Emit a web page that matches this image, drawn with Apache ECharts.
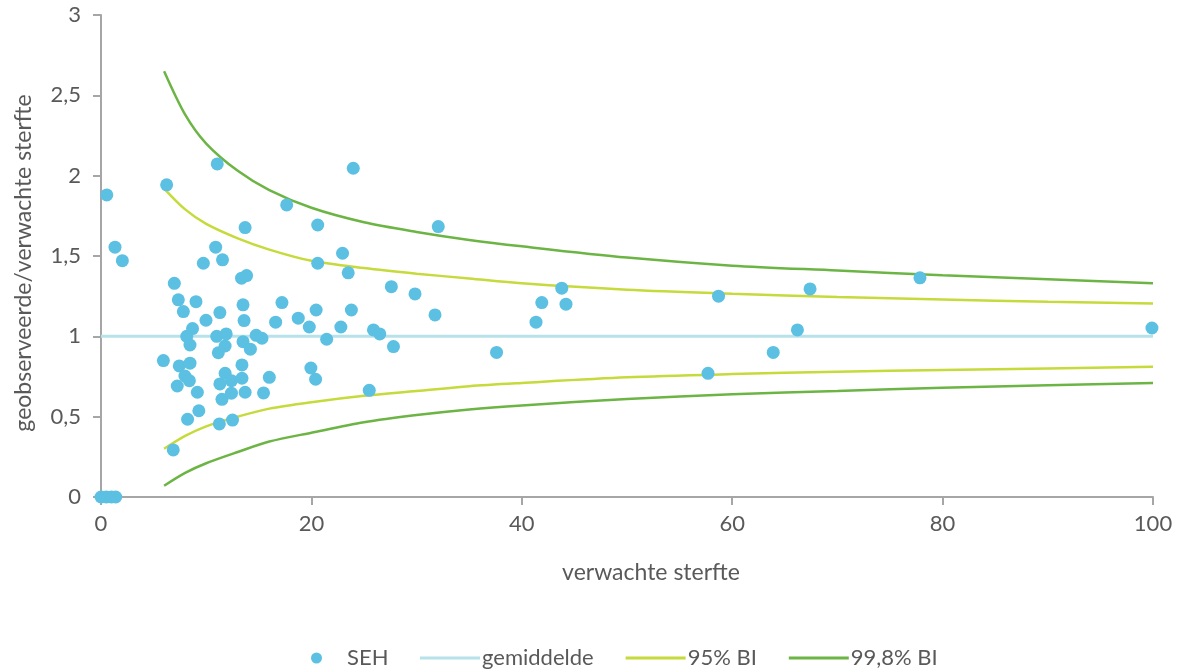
<!DOCTYPE html>
<html>
<head>
<meta charset="utf-8">
<script src="https://cdn.jsdelivr.net/npm/echarts@6/dist/echarts.min.js"></script>
<style>
  html, body { margin: 0; padding: 0; background: #ffffff; }
  #chart { width: 1186px; height: 670px; }
</style>
</head>
<body>
<div id="chart"></div>
<script>
// Observed / expected mortality per hospital (SEH) against expected deaths
const sehPoints = [
  [0, 0], [0.5, 0], [1.0, 0], [1.4, 0],
  [0.55, 1.88], [1.33, 1.555], [2.03, 1.471],
  [5.93, 0.849], [6.24, 1.943], [6.87, 0.293], [6.97, 1.33], [7.25, 0.691],
  [7.35, 1.227], [7.44, 0.816], [7.83, 1.154], [7.98, 0.753], [8.15, 1.0],
  [8.23, 0.484], [8.4, 0.724], [8.46, 0.833], [8.46, 0.946], [8.7, 1.048],
  [9.03, 1.216], [9.16, 0.652], [9.3, 0.537], [9.73, 1.455], [9.98, 1.10],
  [10.9, 1.555], [11.0, 1.0], [11.05, 2.073], [11.15, 0.898], [11.25, 0.455],
  [11.3, 1.148], [11.3, 0.704], [11.5, 0.608], [11.55, 1.476], [11.8, 0.77],
  [11.8, 0.94], [11.9, 1.015], [12.4, 0.724], [12.4, 0.646], [12.5, 0.479],
  [13.36, 1.362], [13.84, 1.378], [13.4, 0.822], [13.4, 0.739], [13.5, 1.196],
  [13.5, 0.967], [13.6, 1.098], [13.7, 1.677], [13.7, 0.652], [14.2, 0.92],
  [14.75, 1.006], [15.3, 0.988], [15.45, 0.648], [16.0, 0.745], [16.6, 1.088],
  [17.2, 1.21], [17.65, 1.818], [18.75, 1.113], [19.8, 1.058], [19.95, 0.803],
  [20.4, 0.733], [20.45, 1.164], [20.6, 1.693], [20.6, 1.455], [21.45, 0.982],
  [22.8, 1.058], [22.96, 1.517], [23.5, 1.395], [23.8, 1.164], [23.98, 2.046],
  [25.5, 0.664], [25.9, 1.04], [26.5, 1.015], [27.6, 1.309], [27.8, 0.936],
  [29.85, 1.264], [31.75, 1.133], [32.06, 1.683], [37.6, 0.90], [41.35, 1.088],
  [41.9, 1.21], [43.8, 1.30], [44.2, 1.20], [57.7, 0.77], [58.7, 1.25],
  [63.9, 0.90], [66.2, 1.04], [67.4, 1.295], [77.85, 1.364], [99.9, 1.052]
];

// Average ratio
const meanLine = [[0, 1], [100, 1]];

// Control limits at selected expected-death values
const limitX = [6, 8, 10, 13, 16, 20, 25, 30, 35, 40, 50, 60, 70, 80, 90, 100];
const upper95 = [1.92, 1.79, 1.70, 1.61, 1.54, 1.47, 1.425, 1.39, 1.36, 1.33, 1.29, 1.265, 1.245, 1.23, 1.215, 1.205];
const lower95 = [0.30, 0.38, 0.44, 0.50, 0.55, 0.59, 0.63, 0.66, 0.69, 0.71, 0.745, 0.765, 0.78, 0.79, 0.80, 0.81];
const upper998 = [2.65, 2.38, 2.20, 2.03, 1.91, 1.80, 1.71, 1.65, 1.60, 1.56, 1.49, 1.44, 1.41, 1.38, 1.355, 1.33];
const lower998 = [0.07, 0.15, 0.21, 0.28, 0.345, 0.40, 0.465, 0.51, 0.545, 0.57, 0.61, 0.64, 0.66, 0.68, 0.695, 0.71];

const xTicks = { min: 0, max: 100, interval: 20 };
const yTicks = { min: 0, max: 3, interval: 0.5 };

const FONT = 'Lato';
const TEXT = '#595959';
const AXIS = '#a6a6a6';
const C_SEH = '#5bc0e2';
const C_MEAN = '#b8e2ea';
const C_95 = '#c6da3c';
const C_998 = '#6cb545';

const pair = (xs, ys) => xs.map((x, i) => [x, ys[i]]);

function limitSeries(name, data, color) {
  return {
    name: name,
    type: 'line',
    data: data,
    smooth: 0.3,
    symbol: 'none',
    legendIcon: 'rect',
    lineStyle: { color: color, width: 2.5 },
    itemStyle: { color: color },
    z: 2
  };
}

const chart = echarts.init(document.getElementById('chart'));
chart.setOption({
  animation: false,
  backgroundColor: '#ffffff',
  textStyle: { fontFamily: FONT },
  grid: { left: 101, right: 33, top: 15, bottom: 173, containLabel: false },
  xAxis: {
    type: 'value',
    min: xTicks.min, max: xTicks.max, interval: xTicks.interval,
    name: 'verwachte sterfte',
    nameLocation: 'middle',
    nameGap: 64,
    nameTextStyle: { color: TEXT, fontSize: 23, fontFamily: FONT, padding: [0, 0, 0, 48] },
    axisLine: { show: true, lineStyle: { color: AXIS, width: 2 } },
    axisTick: { show: true, length: 8, lineStyle: { color: AXIS, width: 2 } },
    axisLabel: { color: TEXT, fontSize: 22, margin: 16, fontFamily: FONT },
    splitLine: { show: false }
  },
  yAxis: {
    type: 'value',
    min: yTicks.min, max: yTicks.max, interval: yTicks.interval,
    name: 'geobserveerde/verwachte sterfte',
    nameLocation: 'middle',
    nameGap: 66,
    nameTextStyle: { color: TEXT, fontSize: 23, fontFamily: FONT, padding: [0, 14, 0, 0] },
    axisLine: { show: true, lineStyle: { color: AXIS, width: 2 } },
    axisTick: { show: true, length: 8, lineStyle: { color: AXIS, width: 2 } },
    axisLabel: {
      color: TEXT, fontSize: 22, margin: 20, fontFamily: FONT,
      formatter: v => String(v).replace('.', ',')
    },
    splitLine: { show: false }
  },
  legend: [
    {
      data: [{ name: 'SEH', icon: 'circle' }],
      left: 306, top: 642,
      itemWidth: 11, itemHeight: 11,
      textStyle: { color: TEXT, fontSize: 22, fontFamily: FONT, padding: [0, 0, 0, 20] }
    },
    {
      data: [
        { name: 'gemiddelde', icon: 'rect' },
        { name: '95% BI', icon: 'rect' },
        { name: '99,8% BI', icon: 'rect' }
      ],
      left: 415, top: 642,
      itemWidth: 60, itemHeight: 3, itemGap: 32,
      textStyle: { color: TEXT, fontSize: 22, fontFamily: FONT, padding: [0, 0, 0, -3] }
    }
  ],
  series: [
    {
      name: 'gemiddelde',
      type: 'line',
      data: meanLine,
      symbol: 'none',
      legendIcon: 'rect',
      lineStyle: { color: C_MEAN, width: 3 },
      itemStyle: { color: C_MEAN },
      z: 1
    },
    limitSeries('95% BI', pair(limitX, upper95), C_95),
    limitSeries('95% BI', pair(limitX, lower95), C_95),
    limitSeries('99,8% BI', pair(limitX, upper998), C_998),
    limitSeries('99,8% BI', pair(limitX, lower998), C_998),
    {
      name: 'SEH',
      type: 'scatter',
      data: sehPoints,
      symbol: 'circle',
      symbolSize: 13,
      clip: false,
      itemStyle: { color: C_SEH, opacity: 1 },
      z: 5
    }
  ]
});
</script>
</body>
</html>
